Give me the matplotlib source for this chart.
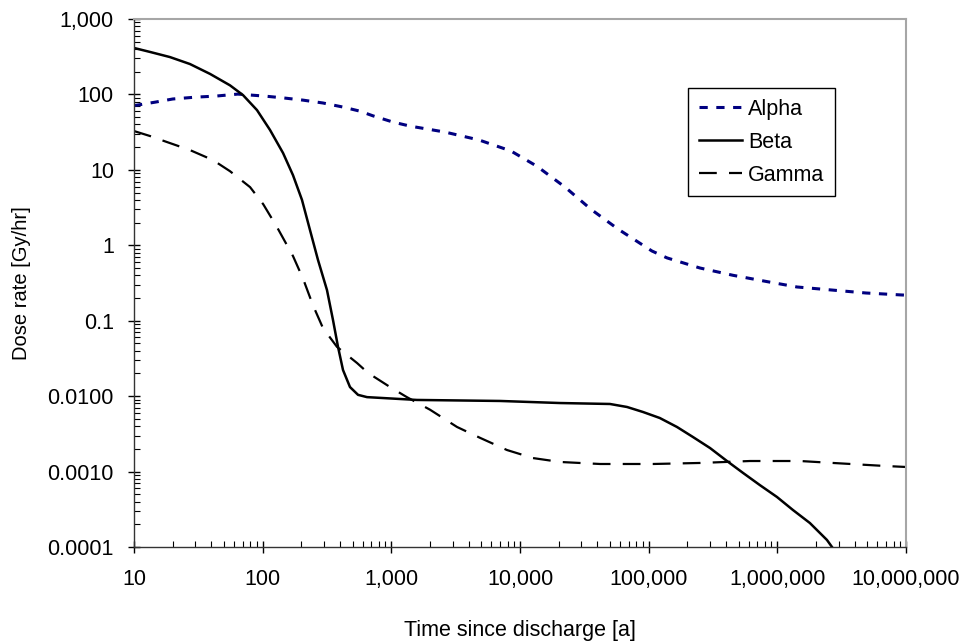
import matplotlib
matplotlib.use("Agg")
import matplotlib.pyplot as plt
from matplotlib.ticker import LogLocator, NullFormatter

plt.rcParams['font.family'] = ['Liberation Sans', 'DejaVu Sans']

# values (time in years, dose rate in Gy/hr)
alpha_t = [10, 10.5, 14.6, 20, 30, 43, 64, 104, 144, 206, 294, 421, 570, 720, 1030,
           1400, 2610, 4800, 8500, 13500, 22400, 35600, 57800, 106000, 139000,
           250000, 452000, 831000, 1.42e6, 2.66e6, 4.89e6, 8.98e6, 1e7]
alpha_d = [71, 72, 79, 87, 92, 95, 101, 95, 90, 84, 77, 68, 60, 52, 43,
           38, 31.7, 24.9, 17.8, 11.2, 5.9, 3.0, 1.64, 0.84, 0.68,
           0.50, 0.40, 0.33, 0.28, 0.255, 0.233, 0.22, 0.218]

beta_t = [10, 13.3, 19, 27.2, 39, 55.7, 70.3, 90.3, 114, 144, 172, 202, 233, 269,
          316, 352, 385, 421, 477, 551, 647, 1580, 7000, 20500, 50000, 67900, 90400,
          122000, 166000, 221000, 300000, 406000, 541000, 733000, 994000, 1.32e6,
          1.79e6, 2.43e6, 2.66e6]
beta_d = [413, 366, 313, 253, 187, 132, 98, 62, 33.8, 16.7, 8.5, 4.0, 1.60, 0.64,
          0.255, 0.102, 0.045, 0.0222, 0.0132, 0.0104, 0.0097, 0.0089, 0.00863,
          0.0081, 0.00787, 0.00718, 0.00616, 0.00513, 0.0039, 0.00287, 0.00205,
          0.00138, 0.00096, 0.00066, 0.00046, 0.00031, 0.000208, 0.000124, 0.0001]

gamma_t = [10, 13.3, 18, 27.2, 41, 55.7, 79.8, 101, 129, 172, 206, 246, 294, 378,
           541, 659, 977, 1320, 2000, 3240, 4890, 7920, 12600, 20500, 41900, 108000,
           251000, 614000, 1.5e6, 2.71e6, 6.62e6, 1e7]
gamma_d = [32.7, 28.1, 23.4, 18.3, 13.5, 9.6, 5.9, 3.5, 1.75, 0.72, 0.36, 0.16,
           0.08, 0.045, 0.0275, 0.0203, 0.0132, 0.0097, 0.0066, 0.0039, 0.0028,
           0.00193, 0.00151, 0.00134, 0.00126, 0.00126, 0.0013, 0.00138, 0.00138,
           0.0013, 0.00119, 0.00115]

xticks = [10, 100, 1000, 10000, 100000, 1000000, 10000000]
xlabels = ['10', '100', '1,000', '10,000', '100,000', '1,000,000', '10,000,000']
yticks = [1000, 100, 10, 1, 0.1, 0.01, 0.001, 0.0001]
ylabels = ['1,000', '100', '10', '1', '0.1', '0.0100', '0.0010', '0.0001']

fig = plt.figure(figsize=(9.67, 6.42), dpi=100)
ax = fig.add_axes([0.1386, 0.148, 0.7983, 0.8224])

ax.plot(alpha_t, alpha_d, color='#000080', lw=2.2, linestyle=(0, (2.7, 2.8)), label='Alpha')
ax.plot(beta_t, beta_d, color='black', lw=1.8, label='Beta')
ax.plot(gamma_t, gamma_d, color='black', lw=1.6, linestyle=(0, (8, 5.5)), label='Gamma')

ax.set_xscale('log')
ax.set_yscale('log')
ax.set_xlim(10, 1e7)
ax.set_ylim(1e-4, 1e3)

ax.set_xticks(xticks)
ax.set_xticklabels(xlabels)
ax.set_yticks(yticks)
ax.set_yticklabels(ylabels)
ax.xaxis.set_minor_locator(LogLocator(base=10, subs=range(2, 10), numticks=20))
ax.yaxis.set_minor_locator(LogLocator(base=10, subs=range(2, 10), numticks=20))
ax.xaxis.set_minor_formatter(NullFormatter())
ax.yaxis.set_minor_formatter(NullFormatter())

ax.tick_params(which='major', direction='inout', length=9, width=1, labelsize=15.5,
               colors='black')
ax.tick_params(which='minor', direction='in', length=4, width=0.8)
ax.tick_params(axis='x', which='major', pad=11)
ax.tick_params(axis='y', which='major', pad=10)

# Spines: grey on top/right like the source
for side in ['top', 'right']:
    ax.spines[side].set_color('#a6a6a6')
    ax.spines[side].set_linewidth(1.5)
for side in ['left', 'bottom']:
    ax.spines[side].set_color('#333333')
    ax.spines[side].set_linewidth(1.0)

ax.set_xlabel('Time since discharge [a]', fontsize=15.5, labelpad=22)
ax.set_ylabel('Dose rate [Gy/hr]', fontsize=14.5, labelpad=12)

leg = ax.legend(loc='upper left', bbox_to_anchor=(0.7176, 0.869), borderaxespad=0,
                fontsize=15.5, handlelength=2.0, handletextpad=0.3, labelspacing=0.55,
                fancybox=False, framealpha=1, edgecolor='black', borderpad=0.5)
leg.get_frame().set_linewidth(1.0)

fig.savefig('out.png', dpi=100)
